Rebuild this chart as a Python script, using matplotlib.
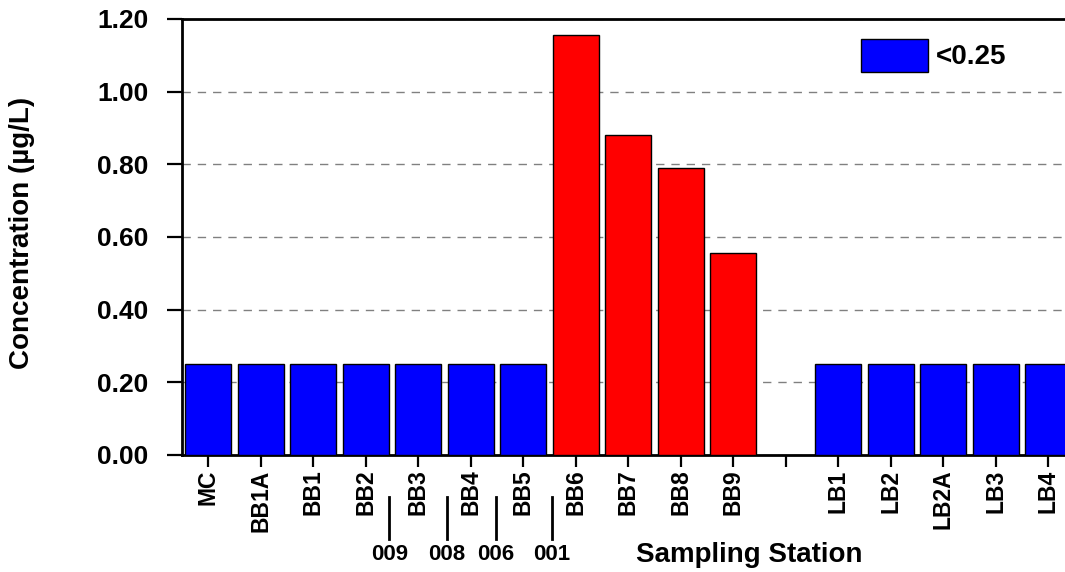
import matplotlib

matplotlib.use("Agg")
import matplotlib.pyplot as plt
import matplotlib.transforms as mtransforms
from matplotlib.patches import Patch

plt.rcParams["font.family"] = ["Liberation Sans", "DejaVu Sans"]
plt.rcParams["font.weight"] = "bold"

# Sampling stations (blank slot separates the BB and LB reaches)
stations = ["MC", "BB1A", "BB1", "BB2", "BB3", "BB4", "BB5", "BB6", "BB7", "BB8", "BB9",
            "", "LB1", "LB2", "LB2A", "LB3", "LB4"]
concentration = [0.25, 0.25, 0.25, 0.25, 0.25, 0.25, 0.25, 1.155, 0.88, 0.79, 0.555,
                 None, 0.25, 0.25, 0.25, 0.25, 0.25]
below_detection = [True, True, True, True, True, True, True, False, False, False, False,
                   None, True, True, True, True, True]

# Outfall locations along the station axis
outfall_labels = ["009", "008", "006", "001"]
outfall_positions = [3.45, 4.55, 5.48, 6.55]

fig = plt.figure(figsize=(10.65, 5.72), dpi=100)
ax = fig.add_axes([182 / 1065, 1 - 455 / 572, 1 - 182 / 1065, (455 - 19) / 572])

for i, (value, nd) in enumerate(zip(concentration, below_detection)):
    if value is None:
        continue
    ax.bar(i, value, width=0.87, color="#0000ff" if nd else "#ff0000",
           edgecolor="black", linewidth=1.0, zorder=3)

ax.set_xlim(-0.5, 16.32)
ax.set_ylim(0, 1.2)
ax.set_yticks([0, 0.2, 0.4, 0.6, 0.8, 1.0, 1.2])
ax.set_yticklabels([f"{v:.2f}" for v in ax.get_yticks()], fontsize=19, fontweight="bold")
ax.set_xticks(range(len(stations)))
ax.set_xticklabels(stations, rotation=90, fontsize=16.5, fontweight="bold")

ax.yaxis.grid(True, linestyle=(0, (6, 5)), color="#808080", linewidth=1.0, zorder=0)
ax.set_axisbelow(True)

for side in ("left", "top", "bottom"):
    ax.spines[side].set_linewidth(2.0)
ax.spines["right"].set_visible(False)
ax.tick_params(axis="y", direction="out", length=11, width=1.6, pad=13)
ax.tick_params(axis="x", direction="out", length=8.5, width=1.6, pad=2)

# outfall markers under the axis
trans = mtransforms.blended_transform_factory(ax.transData, ax.transAxes)
for pos, lab in zip(outfall_positions, outfall_labels):
    ax.plot([pos, pos], [-0.096, -0.193], color="black", linewidth=2.0,
            transform=trans, clip_on=False)
    ax.text(pos, -0.229, lab, transform=trans, ha="center", va="center",
            fontsize=16, fontweight="bold")

ax.text((749 - 182) / 883, -0.229, "Sampling Station", transform=ax.transAxes,
        ha="center", va="center", fontsize=20, fontweight="bold")
fig.text(22.5 / 1065, 1 - 233 / 572, "Concentration (µg/L)", rotation=90,
         ha="center", va="center", fontsize=20, fontweight="bold")

handle = Patch(facecolor="#0000ff", edgecolor="black", linewidth=1.0)
ax.legend([handle], ["<0.25"], loc="upper left", bbox_to_anchor=(0.769, 0.955),
          frameon=False, borderpad=0, borderaxespad=0, handlelength=2.4,
          handleheight=1.45, handletextpad=0.3, prop={"size": 20, "weight": "bold"})

fig.savefig("out.png", dpi=100)
